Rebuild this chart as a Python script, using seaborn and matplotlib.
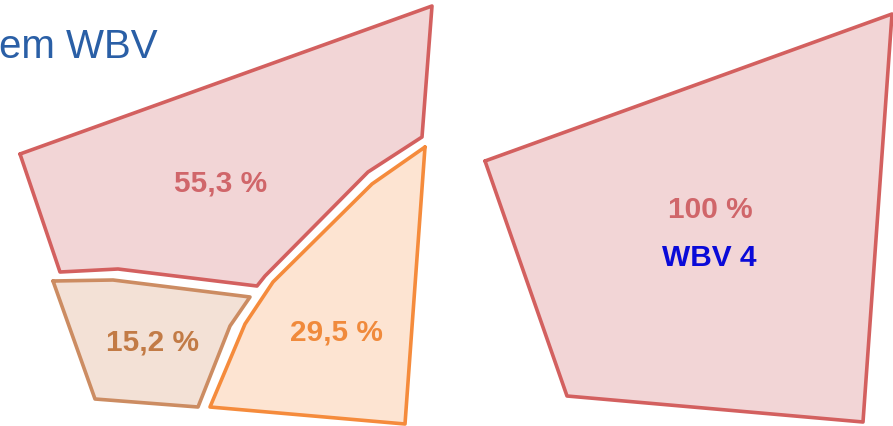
import matplotlib
matplotlib.use("Agg")
import matplotlib.pyplot as plt
import pandas as pd
import seaborn as sns

# region outlines (image coordinates, y grows downward)
TOTAL_X = [485, 892, 863, 567]
TOTAL_Y = [162, 15, 423, 397]

PART_A_X = [20, 432, 422, 368, 265, 257, 118, 60]
PART_A_Y = [155, 7, 138, 173, 277, 287, 270, 273]

PART_B_X = [53, 113, 250, 230, 198, 95]
PART_B_Y = [282, 281, 298, 327, 408, 400]

PART_C_X = [425, 372, 273, 245, 210, 405]
PART_C_Y = [148, 185, 283, 325, 408, 425]

SHARES = ["55,3 %", "15,2 %", "29,5 %", "100 %"]
SHARE_X = [221, 152, 336, 710]
SHARE_Y = [184, 343, 333, 210]
TITLE = "em WBV"
UNIT_LABEL = "WBV 4"

FILLS = ["#f2d5d6", "#f3e1d6", "#fde4d2", "#f2d5d6"]
EDGES = ["#d3605f", "#cc8c62", "#f58b3c", "#d3605f"]
TEXTS = ["#d0666a", "#c27b46", "#f08a3c", "#d0666a"]


def draw_region(ax, xs, ys, fill, edge):
    df = pd.DataFrame({"x": xs + xs[:1], "y": ys + ys[:1]})
    ax.fill(df["x"], df["y"], color=fill, zorder=1)
    sns.lineplot(data=df, x="x", y="y", sort=False, estimator=None,
                 color=edge, linewidth=2.6, ax=ax, zorder=2)


def main():
    sns.set_theme(style="white")
    plt.rcParams["font.family"] = ["Liberation Sans", "DejaVu Sans"]

    fig = plt.figure(figsize=(8.93, 4.27), dpi=100)
    ax = fig.add_axes([0, 0, 1, 1])

    regions = [
        (PART_A_X, PART_A_Y),
        (PART_B_X, PART_B_Y),
        (PART_C_X, PART_C_Y),
        (TOTAL_X, TOTAL_Y),
    ]
    for (xs, ys), fill, edge in zip(regions, FILLS, EDGES):
        draw_region(ax, xs, ys, fill, edge)

    for label, x, y, color in zip(SHARES, SHARE_X, SHARE_Y, TEXTS):
        ax.text(x, y, label, ha="center", va="center", fontsize=21.5,
                fontweight="bold", color=color, zorder=3)

    ax.text(709, 258, UNIT_LABEL, ha="center", va="center", fontsize=21.5,
            fontweight="bold", color="#0a0ad8", zorder=3)
    ax.text(-1, 47, TITLE, ha="left", va="center", fontsize=29,
            color="#2a5fa6", zorder=3)

    ax.set_xlim(0, 893)
    ax.set_ylim(427, 0)
    ax.set_axis_off()
    fig.savefig("out.png", dpi=100)
    plt.close(fig)


if __name__ == "__main__":
    main()
